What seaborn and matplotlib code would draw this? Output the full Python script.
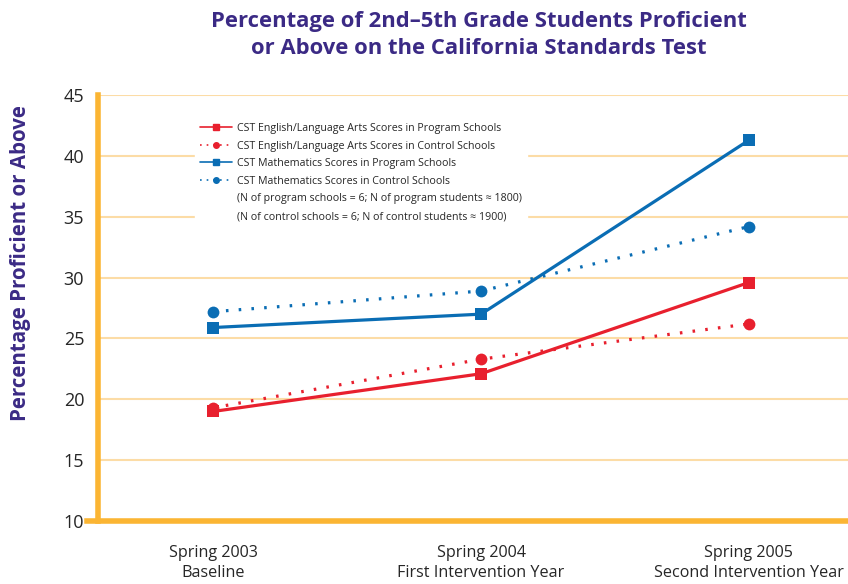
import numpy as np
import pandas as pd
import seaborn as sns
import matplotlib.pyplot as plt
from matplotlib.lines import Line2D

# data
periods = ["Spring 2003\nBaseline", "Spring 2004\nFirst Intervention Year", "Spring 2005\nSecond Intervention Year"]
ela_program = [19.0, 22.1, 29.6]
ela_control = [19.3, 23.3, 26.2]
math_program = [25.9, 27.0, 41.3]
math_control = [27.2, 28.9, 34.2]
series_names = [
    "CST English/Language Arts Scores in Program Schools",
    "CST English/Language Arts Scores in Control Schools",
    "CST Mathematics Scores in Program Schools",
    "CST Mathematics Scores in Control Schools",
]
notes = [
    "(N of program schools = 6; N of program students \u2248 1800)",
    "(N of control schools = 6; N of control students \u2248 1900)",
]
y_ticks = [10, 15, 20, 25, 30, 35, 40, 45]

RED = "#e8202e"
BLUE = "#0a6db4"
ORANGE = "#fbb533"
GRID = "#fcdca6"
PURPLE = "#3b2a85"

sns.set_style("white")
plt.rcParams["font.family"] = ["Open Sans", "DejaVu Sans"]

fig = plt.figure(figsize=(8.48, 5.84), dpi=100)
ax = fig.add_axes([0.1156, 0.108, 0.8844, 0.729])

x = np.arange(len(periods))
styles = [
    (ela_program, RED, "-", "s"),
    (ela_control, RED, (0, (0.8, 3.2)), "o"),
    (math_program, BLUE, "-", "s"),
    (math_control, BLUE, (0, (0.8, 3.2)), "o"),
]
for vals, color, ls, mk in styles:
    df = pd.DataFrame({"x": x, "y": vals})
    sns.lineplot(data=df, x="x", y="y", ax=ax, color=color, linestyle=ls,
                 linewidth=2.3, marker=mk, markersize=8.5, markeredgewidth=0,
                 zorder=3)

ax.set_xlim(-0.43, 2.37)
ax.set_ylim(10, 45)
ax.set_yticks(y_ticks)
ax.set_xticks(x)
ax.set_xticklabels(periods, fontsize=11.6, linespacing=1.4)
ax.tick_params(axis="y", labelsize=13, length=7, width=1.5, color=GRID, pad=3)
ax.tick_params(axis="x", length=0, pad=17)
ax.yaxis.grid(True, color=GRID, linewidth=1.5)
ax.set_axisbelow(True)

for side in ["top", "right"]:
    ax.spines[side].set_visible(False)
ax.spines["left"].set_color(ORANGE)
ax.spines["left"].set_linewidth(4)
ax.spines["bottom"].set_color(ORANGE)
ax.spines["bottom"].set_linewidth(4)
ax.spines["bottom"].set_bounds(-0.47, 2.37)

ax.set_xlabel("")
ax.set_ylabel("Percentage Proficient or Above", fontsize=14.8, fontweight="bold",
              color=PURPLE)
ax.yaxis.set_label_coords(-0.09, 0.605)

handles = [
    Line2D([], [], color=RED, lw=1.2, ls="-", marker="s", markersize=4),
    Line2D([], [], color=RED, lw=1.2, ls=(0, (1, 3)), marker="o", markersize=4),
    Line2D([], [], color=BLUE, lw=1.2, ls="-", marker="s", markersize=4),
    Line2D([], [], color=BLUE, lw=1.2, ls=(0, (1, 3)), marker="o", markersize=4),
    Line2D([], [], color="none"),
    Line2D([], [], color="none"),
]
leg = ax.legend(handles, series_names + notes, loc="upper left",
                bbox_to_anchor=(0.122, 0.96), fontsize=7.7, frameon=True,
                facecolor="white", edgecolor="white", framealpha=1,
                handlelength=3.0, handletextpad=0.4, labelspacing=0.62,
                borderpad=0.5)
leg.set_zorder(5)

fig.text(0.565, 0.982, "Percentage of 2nd\u20135th Grade Students Proficient\nor Above on the California Standards Test",
         ha="center", va="top", fontsize=15.8, fontweight="bold", color=PURPLE,
         linespacing=1.42)

fig.savefig("out.png", dpi=100)
